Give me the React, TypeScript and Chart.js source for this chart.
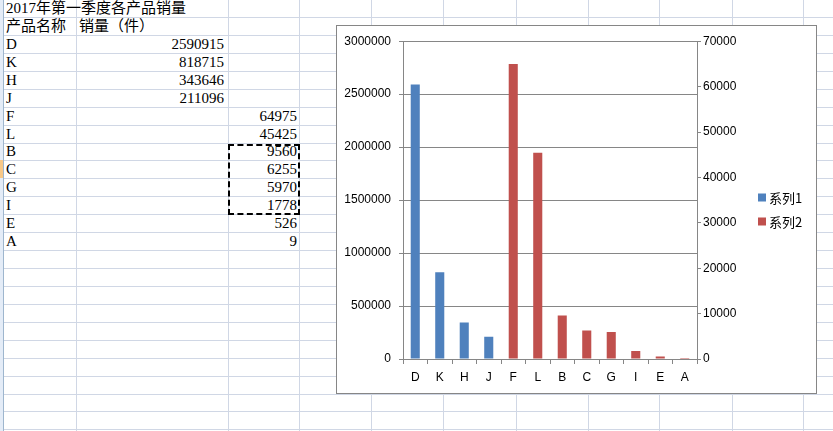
import React, { useEffect, useRef } from "react";
import { Chart, registerables } from "chart.js";

Chart.register(...registerables);

// ---- data ----
const sheetTitle = "2017年第一季度各产品销量";
const headerName = "产品名称";
const headerValue = "销量（件）";
const categories = ["D", "K", "H", "J", "F", "L", "B", "C", "G", "I", "E", "A"];
const series1Label = "系列1";
const series2Label = "系列2";
const series1: (number | null)[] = [2590915, 818715, 343646, 211096, null, null, null, null, null, null, null, null];
const series2: (number | null)[] = [null, null, null, null, 64975, 45425, 9560, 6255, 5970, 1778, 526, 9];
const leftAxisMax = 3000000;
const leftAxisStep = 500000;
const rightAxisMax = 70000;
const rightAxisStep = 10000;

// ---- styles ----
const BLUE = "#4F81BD";
const RED = "#C0504D";
const AXIS = "#868686";
const GRID_SHEET = "#D0D7E5";
const COL_X = [3, 76, 228, 299, 371, 443, 516, 588, 659, 732, 803];
const lineY = (n: number) => Math.round(17 + n * 17.93);
const rowTop = (r: number) => (r === 0 ? 0 : lineY(r - 1));
const rowH = (r: number) => lineY(r) - rowTop(r);

const sheetFont = '"Liberation Serif", "Noto Sans CJK SC", serif';

function Sheet() {
  const els: React.ReactNode[] = [];
  for (let n = 0; n < 24; n++) {
    els.push(
      <div key={"h" + n} style={{ position: "absolute", left: 3, width: 830, top: lineY(n), height: 1, background: GRID_SHEET }} />
    );
  }
  COL_X.forEach((x, i) => {
    els.push(
      <div key={"v" + i} style={{ position: "absolute", left: x, width: 1, top: 0, height: 431, background: i === 0 ? "#9EB6CE" : GRID_SHEET }} />
    );
  });
  // row header strip
  els.push(<div key="strip" style={{ position: "absolute", left: 0, top: 0, width: 3, height: 431, background: "#E4ECF7" }} />);
  els.push(<div key="sel" style={{ position: "absolute", left: 0, top: rowTop(9), width: 3, height: rowH(9), background: "#F8C888" }} />);

  const cell = (key: string, r: number, left: number, width: number, text: string, align: "left" | "right") => (
    <div
      key={key}
      style={{
        position: "absolute",
        left,
        width,
        top: rowTop(r),
        height: rowH(r),
        lineHeight: rowH(r) + "px",
        fontFamily: sheetFont,
        fontSize: 15,
        color: "#000",
        textAlign: align,
        whiteSpace: "nowrap",
      }}
    >
      {text}
    </div>
  );
  els.push(cell("title", 0, 6, 400, sheetTitle, "left"));
  els.push(cell("hn", 1, 6, 70, headerName, "left"));
  els.push(cell("hv", 1, 79, 200, headerValue, "left"));
  categories.forEach((c, i) => {
    const r = i + 2;
    els.push(cell("c" + i, r, 6, 68, c, "left"));
    if (series1[i] != null) els.push(cell("s1" + i, r, 76, 228 - 76 - 4, String(series1[i]), "right"));
    if (series2[i] != null) els.push(cell("s2" + i, r, 228, 299 - 228 - 2, String(series2[i]), "right"));
  });
  // marching-ants selection around B..I in column C
  els.push(
    <div
      key="ants"
      style={{
        position: "absolute",
        left: 228,
        top: rowTop(8) + 1,
        width: 299 - 228 + 1,
        height: lineY(11) - rowTop(8),
        border: "2px dashed #000",
        boxSizing: "border-box",
      }}
    />
  );
  return <>{els}</>;
}

const sideLegend = {
  id: "sideLegend",
  afterDraw(chart: any) {
    const ctx = chart.ctx;
    const ds = chart.data.datasets;
    const x = chart.chartArea.right + 61;
    const step = 24;
    const cy = chart.height / 2;
    ctx.save();
    ds.forEach((d: any, i: number) => {
      const y = cy - ((ds.length - 1) * step) / 2 + i * step;
      ctx.fillStyle = d.backgroundColor;
      ctx.fillRect(x, y - 4, 8, 8);
      ctx.fillStyle = "#000";
      ctx.font = '13px "Noto Sans CJK SC", sans-serif';
      ctx.textBaseline = "middle";
      ctx.textAlign = "left";
      ctx.fillText(d.label, x + 11, y + 0.5);
    });
    ctx.restore();
  },
};

function BarChart() {
  const ref = useRef<HTMLCanvasElement>(null);
  useEffect(() => {
    if (!ref.current) return;
    const font = { family: '"Liberation Sans", Arial, sans-serif', size: 12 };
    const chart = new Chart(ref.current, {
      type: "bar",
      data: {
        labels: categories,
        datasets: [
          { label: series1Label, data: series1, backgroundColor: BLUE, yAxisID: "y" },
          { label: series2Label, data: series2, backgroundColor: RED, yAxisID: "y2" },
        ],
      },
      plugins: [sideLegend],
      options: {
        animation: false,
        responsive: false,
        layout: { padding: { top: 14, right: 69, bottom: 0, left: 0 } },
        plugins: { legend: { display: false }, tooltip: { enabled: false } },
        datasets: { bar: { grouped: false, categoryPercentage: 0.37, barPercentage: 1 } },
        scales: {
          x: {
            grid: { display: true, drawOnChartArea: false, offset: true, tickLength: 5, color: AXIS },
            border: { color: AXIS },
            ticks: { padding: 6, color: "#000", font, maxRotation: 0, autoSkip: false },
            afterFit: (s: any) => {
              s.height = 34;
            },
          },
          y: {
            position: "left",
            min: 0,
            max: leftAxisMax,
            grid: { color: AXIS, tickLength: 4 },
            border: { color: AXIS },
            ticks: { stepSize: leftAxisStep, padding: 8, color: "#000", font, callback: (v: any) => String(v) },
            afterFit: (s: any) => {
              s.width = 66;
            },
          },
          y2: {
            position: "right",
            min: 0,
            max: rightAxisMax,
            grid: { drawOnChartArea: false, color: AXIS, tickLength: 4 },
            border: { color: AXIS },
            ticks: { stepSize: rightAxisStep, padding: 2, color: "#000", font, callback: (v: any) => String(v) },
            afterFit: (s: any) => {
              s.width = 50;
            },
          },
        },
      } as any,
    });
    return () => chart.destroy();
  }, []);
  return <canvas ref={ref} width={479} height={367} style={{ display: "block", width: 479, height: 367 }} />;
}

export default function App() {
  return (
    <div style={{ position: "fixed", left: 0, top: 0, width: 833, height: 431, overflow: "hidden", background: "#fff" }}>
      <Sheet />
      <div
        style={{
          position: "absolute",
          left: 336,
          top: 25,
          width: 481,
          height: 369,
          border: "1px solid #868686",
          boxSizing: "border-box",
          background: "#fff",
        }}
      >
        <BarChart />
      </div>
    </div>
  );
}
